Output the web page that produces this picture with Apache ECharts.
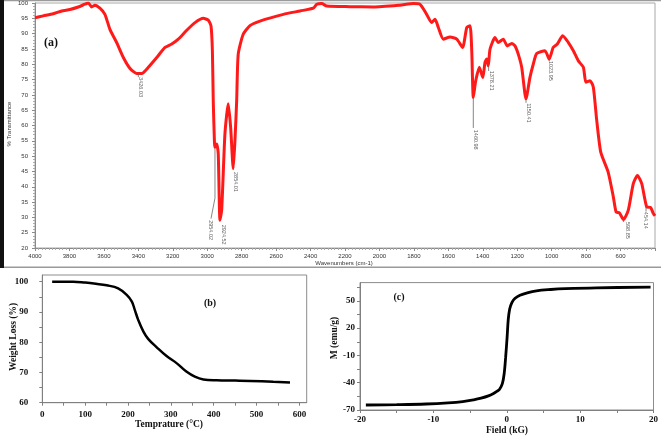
<!DOCTYPE html>
<html><head><meta charset="utf-8">
<script src="https://cdn.jsdelivr.net/npm/echarts@6/dist/echarts.min.js"></script>
<style>html,body{margin:0;padding:0;background:#fff}#c{width:661px;height:436px}</style>
</head><body><div id="c"></div><script>
// ---------- (a) FTIR ----------
const irWavenumber = [4000,3952,3894,3845,3797,3749,3710,3690,3671,3652,3623,3594,3565,3526,3487,3448,3410,3380,3342,3293,3245,3206,3168,3119,3071,3023,2994,2978,2970,2965,2958,2955,2945,2936,2926,2916,2897,2878,2864,2849,2839,2829,2820,2791,2752,2694,2558,2461,2384,2364,2335,2306,2171,2036,1881,1803,1765,1726,1697,1677,1658,1629,1590,1551,1517,1493,1474,1464,1455,1441,1420,1400,1387,1377,1368,1358,1329,1310,1281,1258,1232,1213,1194,1174,1149,1126,1107,1087,1039,1014,991,967,936,903,874,845,816,801,777,758,739,715,672,642,626,607,583,555,526,502,477,448,425,410,400];
const irTransmittance = [95.2,95.8,96.5,97.4,97.9,98.7,99.6,100,98.7,99.3,98.3,96.3,91.4,87.1,82.2,78.6,77.0,77.0,79.0,82.2,85.5,86.6,88.2,91.1,93.6,95.0,94.4,92.5,84.4,68.1,54.5,52.9,54.0,50.8,29.1,32.4,57.4,67.1,59.4,45.9,55.1,68.1,83.3,89.8,92.6,94.1,96.3,97.4,98.3,99.6,99.8,99.0,98.8,98.7,99.3,99.8,99.6,96.3,93.6,94.7,92.0,88.2,88.9,88.2,85.5,92.0,92.6,84.4,69.2,74.6,79.0,75.7,80.6,81.7,79.5,84.9,88.7,87.1,88.2,86.0,86.8,86.0,83.3,79.0,68.7,75.7,80.0,83.5,84.4,81.7,85.5,86.6,89.3,87.1,84.4,81.1,79.0,74.1,74.6,72.5,62,51.3,44.8,36.7,31.8,31.5,29.3,32.4,41.0,43.7,41.0,33.4,33.2,31.3,30.5];
const irXTicks = [4000,3800,3600,3400,3200,3000,2800,2600,2400,2200,2000,1800,1600,1400,1200,1000,800,600];
const irYTicks = [20,25,30,35,40,45,50,55,60,65,70,75,80,85,90,95,100];
const peakText = ['3426.03','2954.02','2924.52','2854.01','1460.98','1378.21','1150.41','1023.95','598.85','454.14'];
const peakW    = [3390, 2978, 2906, 2836, 1440, 1352, 1133, 1008, 560, 456];
const peakT    = [75.8, 29.1, 27.6, 44.8, 58.6, 77.9, 67.3, 81.1, 28.5, 31.8];
const leaderLines = [
  [[3400,77.0],[3400,75.8]],
  [[2955,52.5],[2955,36.3],[2978,29.6]],
  [[1455,69.0],[1455,59.2]],
  [[1366,79.3],[1366,77.8]],
  [[1149,68.7],[1149,67.4]],
  [[1014,81.7],[1014,81.0]],
  [[583,29.3],[583,28.5]],
  [[452,33.4],[452,31.9]]
];
// ---------- (b) TGA ----------
const tgaTemp   = [23,50,72,100,125,150,177,197,209,216,224,236,247,267,290,314,337,356,376,407,450,485,539,578];
const tgaWeight = [100,100,100,99.7,99.3,98.8,97.8,95.6,93.4,90.6,87.3,83.5,81.1,78.3,75.4,73,70.2,68.6,67.7,67.4,67.3,67.2,66.9,66.7];
const tgaXTicks = [0,100,200,300,400,500,600];
const tgaYTicks = [60,70,80,90,100];
// ---------- (c) VSM ----------
const vsmField  = [-19.2,-15,-11,-8,-6,-4.5,-3.5,-2.5,-1.8,-1.3,-1.0,-0.6,-0.35,-0.15,0.05,0.2,0.4,0.7,1.1,1.8,2.8,4.05,6,8,12.2,19.6];
const vsmMoment = [-64.5,-64.1,-63.4,-62.2,-60.8,-58.8,-57,-54.5,-51.8,-49.3,-47.5,-41,-30,-12,10,29,41,48,52.5,56,58.8,61,62.4,63.3,64.3,65];
const vsmXTicks = [-20,-10,0,10,20];
const vsmYTicks = [-70,-40,-10,20,50];

const serifB = {fontFamily:'Liberation Serif', fontWeight:'bold', color:'#111'};
const plain = v => String(v);
const chart = echarts.init(document.getElementById('c'), null, {renderer:'canvas'});
chart.setOption({
  animation:false,
  backgroundColor:'#fff',
  grid:[
    {left:35, top:2, width:620, height:246, show:true, borderColor:'#a8a8a8', borderWidth:1},
    {left:42.3, top:275, width:264.4, height:127.7, show:true, borderColor:'#8c8c8c', borderWidth:1},
    {left:360, top:282.6, width:296, height:127.4, show:true, borderColor:'#8c8c8c', borderWidth:1}
  ],
  xAxis:[
    {gridIndex:0, type:'value', min:400, max:4000, interval:200, inverse:true,
     axisLine:{onZero:false, lineStyle:{color:'#8a8a8a', width:1}},
     axisTick:{show:true, length:3, lineStyle:{color:'#8a8a8a'}},
     minorTick:{show:true, splitNumber:10, length:2, lineStyle:{color:'#aaa'}},
     axisLabel:{customValues:irXTicks, formatter:plain, fontSize:6, color:'#333', fontFamily:'Liberation Sans', margin:5},
     splitLine:{show:false}},
    {gridIndex:1, type:'value', min:0, max:617,
     axisLine:{onZero:false, lineStyle:{color:'#808080', width:1}},
     axisTick:{show:true, customValues:[0,50,100,150,200,250,300,350,400,450,500,550,600], length:3, lineStyle:{color:'#808080'}},
     axisLabel:Object.assign({customValues:tgaXTicks, formatter:plain, fontSize:9, margin:7}, serifB),
     splitLine:{show:false}},
    {gridIndex:2, type:'value', min:-20, max:20, interval:10,
     axisLine:{onZero:false, lineStyle:{color:'#808080', width:1}},
     axisTick:{show:true, length:3, lineStyle:{color:'#808080'}},
     minorTick:{show:true, splitNumber:2, length:3, lineStyle:{color:'#808080'}},
     axisLabel:Object.assign({customValues:vsmXTicks, formatter:plain, fontSize:9, margin:5}, serifB),
     splitLine:{show:false}}
  ],
  yAxis:[
    {gridIndex:0, type:'value', min:20, max:100, interval:5,
     axisLine:{onZero:false, lineStyle:{color:'#8a8a8a', width:1}},
     axisTick:{show:true, length:3, lineStyle:{color:'#8a8a8a'}},
     minorTick:{show:true, splitNumber:5, length:2, lineStyle:{color:'#aaa'}},
     axisLabel:{customValues:irYTicks, formatter:plain, fontSize:6, color:'#333', fontFamily:'Liberation Sans', margin:7},
     splitLine:{show:false}},
    {gridIndex:1, type:'value', min:60, max:102.2,
     axisLine:{onZero:false, lineStyle:{color:'#808080', width:1}},
     axisTick:{show:true, customValues:[60,65,70,75,80,85,90,95,100], length:3, lineStyle:{color:'#808080'}},
     axisLabel:Object.assign({customValues:tgaYTicks, formatter:plain, fontSize:9, margin:14}, serifB),
     splitLine:{show:false}},
    {gridIndex:2, type:'value', min:-70, max:70,
     axisLine:{onZero:false, lineStyle:{color:'#808080', width:1}},
     axisTick:{show:true, customValues:[-70,-55,-40,-25,-10,5,20,35,50,65], length:3, lineStyle:{color:'#808080'}},
     axisLabel:Object.assign({customValues:vsmYTicks, formatter:plain, fontSize:9, margin:5}, serifB),
     splitLine:{show:false}}
  ],
  series:[
    {type:'line', xAxisIndex:0, yAxisIndex:0, showSymbol:false, smooth:0.2,
     data:irWavenumber.map((w,i)=>[w, irTransmittance[i]]),
     lineStyle:{color:'#ff1a1a', width:3}, z:3},
    {type:'lines', coordinateSystem:'cartesian2d', xAxisIndex:0, yAxisIndex:0, polyline:true, silent:true,
     data:leaderLines.map(c=>({coords:c})), lineStyle:{color:'#666', width:0.8, opacity:1}, z:4},
    {type:'scatter', xAxisIndex:0, yAxisIndex:0, symbolSize:0, silent:true, z:5,
     data:peakW.map((w,i)=>[w, peakT[i]]),
     label:{show:true, formatter:p=>peakText[p.dataIndex], rotate:-90, position:[0,0], align:'left', verticalAlign:'middle',
            fontSize:5.5, color:'#333', fontFamily:'Liberation Sans'}},
    {type:'line', xAxisIndex:1, yAxisIndex:1, showSymbol:false, smooth:0.4,
     data:tgaTemp.map((t,i)=>[t, tgaWeight[i]]), lineStyle:{color:'#000', width:2.5}},
    {type:'line', xAxisIndex:2, yAxisIndex:2, showSymbol:false, smooth:0.35,
     data:vsmField.map((h,i)=>[h, vsmMoment[i]]), lineStyle:{color:'#000', width:2.8}}
  ],
  graphic:[
    {type:'rect', shape:{x:0, y:0, width:4, height:268}, style:{fill:'#111'}},
    {type:'rect', shape:{x:4, y:266.5, width:657, height:1.5}, style:{fill:'#9a9a9a'}},
    {type:'rect', shape:{x:4, y:0, width:657, height:1.2}, style:{fill:'#9a9a9a'}},
    {type:'text', x:51, y:43, style:{text:'(a)', font:'bold 12px "Liberation Serif"', fill:'#111', align:'center', verticalAlign:'middle'}},
    {type:'text', x:9, y:124, rotation:Math.PI/2, style:{text:'% Transmittance', font:'6px "Liberation Sans"', fill:'#333', align:'center', verticalAlign:'middle'}},
    {type:'text', x:344, y:263, style:{text:'Wavenumbers (cm-1)', font:'6px "Liberation Sans"', fill:'#333', align:'center', verticalAlign:'middle'}},
    {type:'text', x:210, y:303.5, style:{text:'(b)', font:'bold 10px "Liberation Serif"', fill:'#111', align:'center', verticalAlign:'middle'}},
    {type:'text', x:14, y:337, rotation:Math.PI/2, style:{text:'Weight Loss (%)', font:'bold 9.5px "Liberation Serif"', fill:'#111', align:'center', verticalAlign:'middle'}},
    {type:'text', x:169, y:425, style:{text:'Temprature (°C)', font:'bold 9.5px "Liberation Serif"', fill:'#111', align:'center', verticalAlign:'middle'}},
    {type:'text', x:399, y:297, style:{text:'(c)', font:'bold 10px "Liberation Serif"', fill:'#111', align:'center', verticalAlign:'middle'}},
    {type:'text', x:335, y:338, rotation:Math.PI/2, style:{text:'M (emu/g)', font:'bold 9.5px "Liberation Serif"', fill:'#111', align:'center', verticalAlign:'middle'}},
    {type:'text', x:507, y:431, style:{text:'Field (kG)', font:'bold 9.5px "Liberation Serif"', fill:'#111', align:'center', verticalAlign:'middle'}}
  ]
});
</script></body></html>
